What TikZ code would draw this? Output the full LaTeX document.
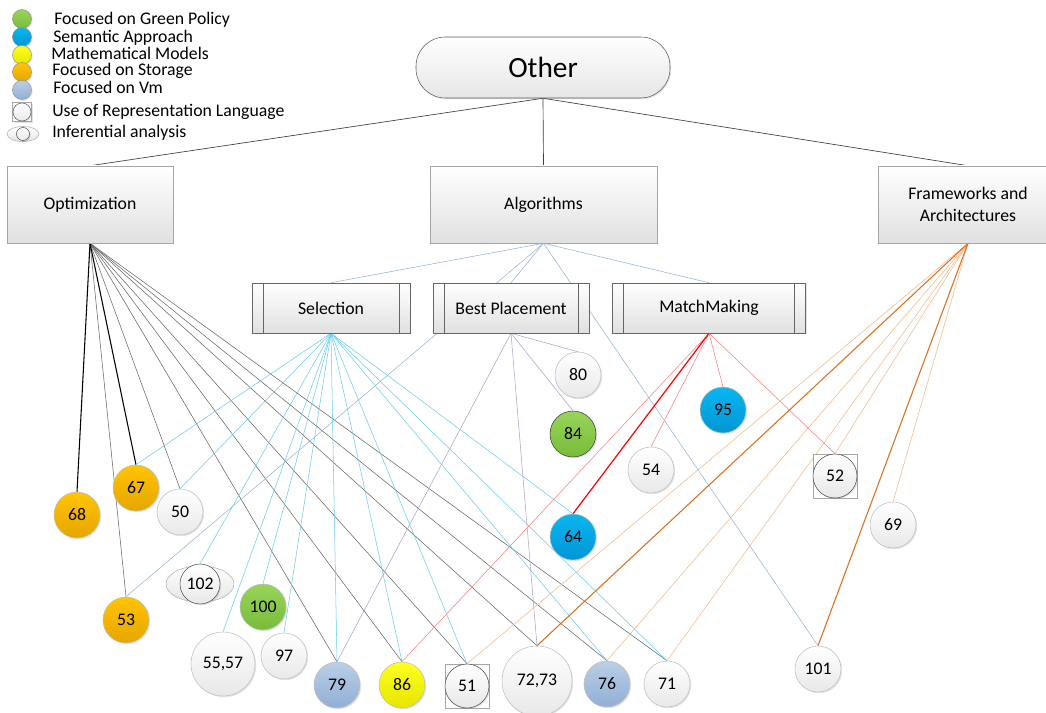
\documentclass[tikz,border=0pt]{standalone}
\usepackage{fontspec}
\setmainfont{Carlito}
\usetikzlibrary{backgrounds,shadows,shapes.geometric}
\definecolor{grA}{RGB}{152,212,90}
\definecolor{grB}{RGB}{120,188,58}
\definecolor{blA}{RGB}{10,182,240}
\definecolor{blB}{RGB}{0,150,212}
\definecolor{yeA}{RGB}{255,255,30}
\definecolor{yeB}{RGB}{230,230,0}
\definecolor{orA}{RGB}{255,196,0}
\definecolor{orB}{RGB}{230,166,0}
\definecolor{vmA}{RGB}{186,206,230}
\definecolor{vmB}{RGB}{145,175,212}
\definecolor{selc}{RGB}{105,205,240}
\definecolor{algc}{RGB}{148,180,216}
\definecolor{bpc}{RGB}{172,162,204}
\definecolor{mmc}{RGB}{255,125,125}
\definecolor{frc}{RGB}{246,182,132}
\definecolor{frd}{RGB}{222,112,32}

\begin{document}
\begin{tikzpicture}[x=0.75pt,y=-0.75pt,font=\fontsize{13.3}{16}\selectfont,
every node/.style={inner sep=0pt},
lift/.style={drop shadow={opacity=.22,shadow xshift=.9pt,shadow yshift=-.9pt}},
box/.style={draw=black!35,top color=white,bottom color=black!12,lift,
  minimum height=57.75pt,align=center},
subbox/.style={box,draw=black!60,minimum height=37.5pt,
  path picture={\draw[black!60]
    ([xshift=8.25pt]path picture bounding box.north west) --
    ([xshift=8.25pt]path picture bounding box.south west)
    ([xshift=-8.25pt]path picture bounding box.north east) --
    ([xshift=-8.25pt]path picture bounding box.south east);}},
paper/.style={circle,draw=black!25,minimum size=34.5pt,top color=white,
  bottom color=black!9,lift},
legdot/.style={paper,minimum size=14.25pt,draw=black!40},
gpol/.style={top color=grA,bottom color=grB},
sem/.style={top color=blA,bottom color=blB},
math/.style={top color=yeA,bottom color=yeB},
stor/.style={top color=orA,bottom color=orB},
vm/.style={top color=vmA,bottom color=vmB},
lang/.style={draw=black!35,fill=white,minimum size=33pt,lift},
infer/.style={ellipse,draw=black!30,top color=white,bottom color=black!10,
  minimum width=51pt,minimum height=27pt},
key/.style={anchor=base west}]
\useasboundingbox (0,0) rectangle (1046,713);
\clip (0,0) rectangle (1046,713);

\node[legdot,gpol] (k1) at (22,19) {};
\node[legdot,sem] (k2) at (22,37) {};
\node[legdot,math] (k3) at (22,55) {};
\node[legdot,stor] (k4) at (22,72) {};
\node[legdot,vm] (k5) at (22,90) {};
\node[lang,minimum size=14.25pt] (k6) at (22,112) {};
\node[paper,minimum size=13.5pt,draw=black!60] at (k6) {};
\node[infer,minimum width=24pt,minimum height=11.25pt] (k7) at (23,134) {};
\node[paper,minimum size=9.75pt,draw=black!70] at (k7) {};
\node[key] (t1) at (54,25) {Focused on Green Policy};
\node[key] (t2) at (53,43) {Semantic Approach};
\node[key] (t3) at (51,60) {Mathematical Models};
\node[key] (t4) at (52,76) {Focused on Storage};
\node[key] (t5) at (53,94) {Focused on Vm};
\node[key] (t6) at (52,117) {Use of Representation Language};
\node[key] (t7) at (52,138) {Inferential analysis};

\node[draw=black!65,rounded corners=22pt,top color=white,bottom color=black!10,lift,
  minimum width=190.5pt,minimum height=45.75pt,font=\fontsize{22}{26}\selectfont]
  (oth) at (543,67.5) {Other};
\node[box,minimum width=124.5pt] (opt) at (90,204.5) {Optimization};
\node[box,minimum width=170.25pt] (alg) at (543.5,204.5) {Algorithms};
\node[box,minimum width=135pt] (frm) at (968,204.5) {Frameworks and\\Architectures};
\node[subbox,minimum width=118.5pt] (sel) at (331,308) {Selection};
\node[subbox,minimum width=117pt] (bp) at (511,308) {Best Placement};
\node[subbox,minimum width=144.75pt] (mm) at (709,308) {MatchMaking};

\node[paper] (n80) at (578,375) {80};
\node[paper,gpol,draw=black!75] (n84) at (573,434) {84};
\node[paper,sem] (n95) at (723,410) {95};
\node[paper] (n54) at (651,470) {54};
\node[lang] (s52) at (835,476) {};
\node[paper,draw=black!70,minimum size=33pt] (n52) at (s52) {52};
\node[paper,sem] (n64) at (573,537) {64};
\node[paper] (n69) at (893,525) {69};
\node[paper] (n101) at (818,669) {101};
\node[paper,stor] (n68) at (77,515) {68};
\node[paper,stor] (n67) at (136,488) {67};
\node[paper] (n50) at (180,512) {50};
\node[infer] (e102) at (200,584) {};
\node[paper,draw=black!70,minimum size=30pt] (n102) at (e102) {102};
\node[paper,gpol] (n100) at (263,607) {100};
\node[paper,stor] (n53) at (126,620) {53};
\node[paper,minimum size=48pt] (n5557) at (223,664) {55,57};
\node[paper] (n97) at (284,656) {97};
\node[paper,vm] (n79) at (337,685) {79};
\node[paper,math] (n86) at (402,685) {86};
\node[lang] (s51) at (467,686) {};
\node[paper,draw=black!70,minimum size=33pt] (n51) at (s51) {51};
\node[paper,minimum size=52.5pt] (n7273) at (537,681) {72,73};
\node[paper,vm] (n76) at (607,684) {76};
\node[paper] (n71) at (667,684) {71};

\begin{scope}[on background layer]
\fill[white] (0,0) rectangle (1046,713);
\foreach \t in {opt,alg,frm} \draw[black!75,line width=.5pt] (oth.south) -- (\t.north);
\foreach \t in {n53,n50,n79,n86,n51,n7273,n76,n71}
  \draw[black!60,line width=.4pt] (opt.south) -- (\t.north);
\foreach \t in {n68,n67} \draw[black,line width=.8pt] (opt.south) -- (\t.north);
\foreach \t in {sel,bp,mm,n53,n101} \draw[algc,line width=.4pt] (alg.south) -- (\t.north);
\foreach \t in {n67,n50,n102,n5557,n100,n97,n79,n86,n51,n64,n76,n71}
  \draw[selc,line width=.4pt] (sel.south) -- (\t.north);
\foreach \t in {n80,n84,n79,n7273} \draw[bpc,line width=.4pt] (bp.south) -- (\t.north);
\foreach \t in {n86,n54,n95,n52} \draw[mmc,line width=.4pt] (mm.south) -- (\t.north);
\draw[red,line width=.9pt] (mm.south) -- (n64.north);
\foreach \t in {n51,n76,n71,n52,n69} \draw[frc,line width=.4pt] (frm.south) -- (\t.north);
\foreach \t in {n7273,n101} \draw[frd,line width=.8pt] (frm.south) -- (\t.north);
\end{scope}
\end{tikzpicture}
\end{document}
